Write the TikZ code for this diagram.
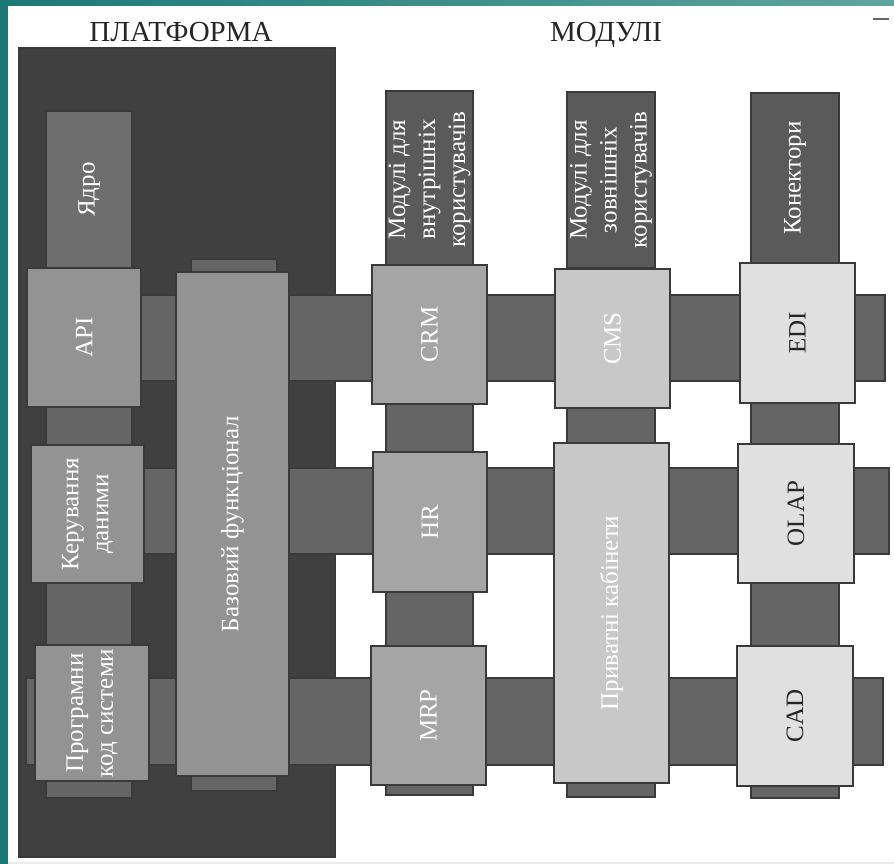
\documentclass[tikz,border=0pt]{standalone}
\usepackage{fontspec}
\setmainfont{Liberation Serif}
\usetikzlibrary{calc,backgrounds}

\definecolor{framel}{HTML}{1B7975}
\definecolor{framer}{HTML}{5FA4A0}
\definecolor{edgegray}{HTML}{3A3A3A}
\definecolor{titlegray}{HTML}{262626}
\definecolor{platgray}{HTML}{404040}
\definecolor{bargray}{HTML}{656565}
\definecolor{coregray}{HTML}{6E6E6E}
\definecolor{platbox}{HTML}{939393}
\definecolor{topgray}{HTML}{5A5A5A}
\definecolor{inboxgray}{HTML}{A5A5A5}
\definecolor{exboxgray}{HTML}{C8C8C8}
\definecolor{conboxgray}{HTML}{E0E0E0}

\begin{document}
\begin{tikzpicture}[x=1pt, y=-1pt,
	box/.style={draw=edgegray, line width=1.2pt, rotate=90, inner sep=0pt, align=center, text=white, font=\fontsize{25}{30}\selectfont},
	bar/.style={draw=edgegray, line width=1.2pt, fill=bargray},
	title/.style={anchor=base, text=titlegray, font=\fontsize{29}{34}\selectfont}]

	\useasboundingbox (0,0) rectangle (894,864);

	\node[title] (plattitle) at (181,42) {ПЛАТФОРМА};
	\node[title] (modtitle) at (606,42) {МОДУЛІ};

	\node[box, fill=coregray, minimum width=157pt, minimum height=86pt] (core) at (89,189.5) {Ядро};
	\node[box, fill=platbox, minimum width=139pt, minimum height=114pt] (api) at (84,337.5) {API};
	\node[box, fill=platbox, minimum width=138pt, minimum height=113pt] (data) at (87.5,514) {Керування\\даними};
	\node[box, fill=platbox, minimum width=136pt, minimum height=114pt] (prog) at (92,713) {Програмни\\код системи};
	\node[box, fill=platbox, minimum width=504pt, minimum height=113pt] (base) at (232.5,524) {Базовий функціонал};

	\node[box, fill=topgray, minimum width=177pt, minimum height=87pt] (intmod) at (429.5,179.5) {Модулі для\\внутрішніх\\користувачів};
	\node[box, fill=inboxgray, minimum width=139pt, minimum height=115pt] (crm) at (429.5,334.5) {CRM};
	\node[box, fill=inboxgray, minimum width=140pt, minimum height=114pt] (hr) at (430,522) {HR};
	\node[box, fill=inboxgray, minimum width=139pt, minimum height=115pt] (mrp) at (428.5,715.5) {MRP};

	\node[box, fill=topgray, minimum width=176pt, minimum height=88pt] (extmod) at (611,180) {Модулі для\\зовнішніх\\користувачів};
	\node[box, fill=exboxgray, minimum width=139pt, minimum height=115pt] (cms) at (612.5,338.5) {CMS};
	\node[box, fill=exboxgray, minimum width=340pt, minimum height=115pt] (cabinets) at (611.5,613) {Приватні кабінети};

	\node[box, fill=topgray, minimum width=170pt, minimum height=88pt] (conn) at (795,178) {Конектори};
	\node[box, fill=conboxgray, text=titlegray, minimum width=140pt, minimum height=115pt] (edi) at (797.5,333) {EDI};
	\node[box, fill=conboxgray, text=titlegray, minimum width=139pt, minimum height=116pt] (olap) at (796,513.5) {OLAP};
	\node[box, fill=conboxgray, text=titlegray, minimum width=140pt, minimum height=116pt] (cad) at (795,716) {CAD};

	\coordinate (r1top) at (0,295);
	\coordinate (r1end) at (885,381);
	\coordinate (r2top) at (0,468);
	\coordinate (r2end) at (889,554);
	\coordinate (r3start) at (26,678);
	\coordinate (r3end) at (883,765);
	\coordinate (c1end) at (132,798);
	\coordinate (c3end) at (473,795);
	\coordinate (c4end) at (655,797);
	\coordinate (c5end) at (839,798);

	\begin{scope}[on background layer]
		\fill[white] (0,0) rectangle (894,864);
		\fill[framel] (0,0) rectangle (8,864);
		\shade[left color=framel, right color=framer] (0,0) rectangle (894,6);
		\fill[black!8] (8,862) rectangle (894,864);
		\draw[line width=2pt, black!60] (873,19) -- (889,19);

		\node[draw=edgegray, line width=1.2pt, fill=platgray, minimum width=316pt, minimum height=809pt, inner sep=0pt] (platform) at (177,452.5) {};

		\draw[bar] (api.center |- r1top) rectangle (r1end);
		\draw[bar] (data.center |- r2top) rectangle (r2end);
		\draw[bar] (r3start) rectangle (r3end);

		\draw[bar] ($(core.center)+(-43,0)$) rectangle (c1end);
		\draw[bar] ($(base.center)+(-41.5,-265)$) rectangle ($(base.center)+(44.5,267)$);
		\draw[bar] ($(intmod.center)+(-43.5,0)$) rectangle (c3end);
		\draw[bar] ($(extmod.center)+(-44,0)$) rectangle (c4end);
		\draw[bar] ($(conn.center)+(-44,0)$) rectangle (c5end);
	\end{scope}
\end{tikzpicture}
\end{document}
